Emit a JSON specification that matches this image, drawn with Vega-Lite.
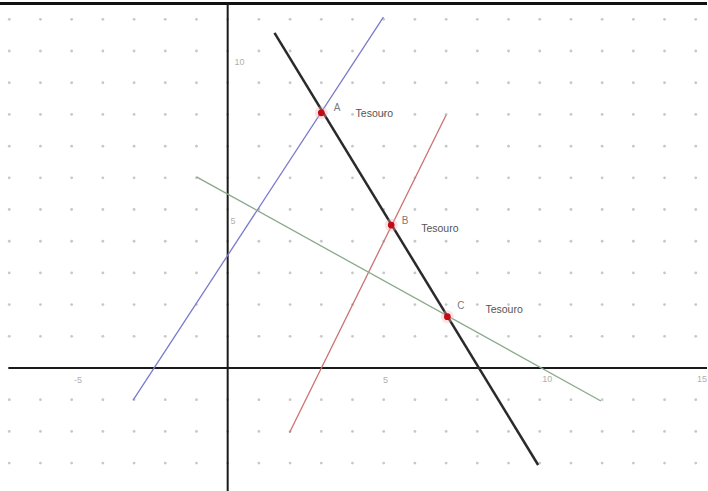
{
  "$schema": "https://vega.github.io/schema/vega-lite/v6.json",
  "width": 708,
  "height": 491,
  "autosize": {"type": "fit", "contains": "padding"},
  "padding": 0,
  "background": "white",
  "config": {"view": {"stroke": null}},
  "datasets": {
    "grid": [
      {"gy": 11, "xs": [-7,-6,-5,-4,-3,-2,-1,0,1,2,3,4,5,6,7,8,9,10,11,12,13,14,15]},
      {"gy": 10, "xs": [-7,-6,-5,-4,-3,-2,-1,0,1,2,3,4,5,6,7,8,9,10,11,12,13,14,15]},
      {"gy": 9, "xs": [-7,-6,-5,-4,-3,-2,-1,0,1,2,3,4,5,6,7,8,9,10,11,12,13,14,15]},
      {"gy": 8, "xs": [-7,-6,-5,-4,-3,-2,-1,0,1,2,3,4,5,6,7,8,9,10,11,12,13,14,15]},
      {"gy": 7, "xs": [-7,-6,-5,-4,-3,-2,-1,0,1,2,3,4,5,6,7,8,9,10,11,12,13,14,15]},
      {"gy": 6, "xs": [-7,-6,-5,-4,-3,-2,-1,0,1,2,3,4,5,6,7,8,9,10,11,12,13,14,15]},
      {"gy": 5, "xs": [-7,-6,-5,-4,-3,-2,-1,0,1,2,3,4,5,6,7,8,9,10,11,12,13,14,15]},
      {"gy": 4, "xs": [-7,-6,-5,-4,-3,-2,-1,0,1,2,3,4,5,6,7,8,9,10,11,12,13,14,15]},
      {"gy": 3, "xs": [-7,-6,-5,-4,-3,-2,-1,0,1,2,3,4,5,6,7,8,9,10,11,12,13,14,15]},
      {"gy": 2, "xs": [-7,-6,-5,-4,-3,-2,-1,0,1,2,3,4,5,6,7,8,9,10,11,12,13,14,15]},
      {"gy": 1, "xs": [-7,-6,-5,-4,-3,-2,-1,0,1,2,3,4,5,6,7,8,9,10,11,12,13,14,15]},
      {"gy": -1, "xs": [-7,-6,-5,-4,-3,-2,-1,0,1,2,3,4,5,6,7,8,9,10,11,12,13,14,15]},
      {"gy": -2, "xs": [-7,-6,-5,-4,-3,-2,-1,0,1,2,3,4,5,6,7,8,9,10,11,12,13,14,15]},
      {"gy": -3, "xs": [-7,-6,-5,-4,-3,-2,-1,0,1,2,3,4,5,6,7,8,9,10,11,12,13,14,15]}
    ],
    "border": [
      {"id": "top", "x": -7.6, "y": 11.5, "x2": 15.6, "y2": 11.5}
    ],
    "frame": [
      {"id": "xaxis", "x": -7.03, "y": 0, "x2": 15.6, "y2": 0},
      {"id": "yaxis", "x": 0, "y": -4.2, "x2": 0, "y2": 11.5}
    ],
    "thin": [
      {"id": "blue", "x": -3.03, "y": -1.01, "x2": 4.99, "y2": 11.07},
      {"id": "red", "x": 1.98, "y": -2.04, "x2": 7.0, "y2": 7.98},
      {"id": "green", "x": -1.0, "y": 6.03, "x2": 11.96, "y2": -1.04}
    ],
    "thick": [
      {"id": "black", "x": 1.5, "y": 10.57, "x2": 9.95, "y2": -3.06}
    ],
    "points": [
      {"name": "A", "x": 3.0, "y": 8.05},
      {"name": "B", "x": 5.24, "y": 4.51},
      {"name": "C", "x": 7.04, "y": 1.62}
    ],
    "names": [
      {"text": "A", "x": 3.4, "y": 8.2},
      {"text": "B", "x": 5.58, "y": 4.64},
      {"text": "C", "x": 7.36, "y": 1.96}
    ],
    "tesouro": [
      {"text": "Tesouro", "x": 4.1, "y": 8.02},
      {"text": "Tesouro", "x": 6.2, "y": 4.38},
      {"text": "Tesouro", "x": 8.26, "y": 1.83}
    ],
    "ticklabels": [
      {"text": "-5", "x": -4.8, "y": -0.38},
      {"text": "5", "x": 5.06, "y": -0.38},
      {"text": "10", "x": 10.24, "y": -0.36},
      {"text": "15", "x": 15.2, "y": -0.36},
      {"text": "5", "x": 0.17, "y": 4.65},
      {"text": "10", "x": 0.38, "y": 9.65}
    ]
  },
  "layer": [
    {
      "data": {"name": "grid"},
      "transform": [{"flatten": ["xs"], "as": ["gx"]}],
      "mark": {"type": "point", "filled": true, "shape": "circle", "size": 8, "color": "#c8c8c8", "opacity": 1},
      "encoding": {
        "x": {"field": "gx", "type": "quantitative", "scale": {"domain": [-7.296, 15.36], "nice": false, "zero": false}, "axis": null},
        "y": {"field": "gy", "type": "quantitative", "scale": {"domain": [-3.88, 11.61], "nice": false, "zero": false}, "axis": null}
      }
    },
    {
      "data": {"name": "ticklabels"},
      "mark": {"type": "text", "font": "Liberation Sans", "fontSize": 9, "color": "#b0b0b0", "align": "center", "baseline": "middle"},
      "encoding": {
        "x": {"field": "x", "type": "quantitative"},
        "y": {"field": "y", "type": "quantitative"},
        "text": {"field": "text"}
      }
    },
    {
      "data": {"name": "border"},
      "mark": {"type": "rule", "clip": true, "strokeCap": "butt", "color": "#111111", "strokeWidth": 3},
      "encoding": {
        "x": {"field": "x", "type": "quantitative"},
        "y": {"field": "y", "type": "quantitative"},
        "x2": {"field": "x2"},
        "y2": {"field": "y2"}
      }
    },
    {
      "data": {"name": "frame"},
      "mark": {"type": "rule", "clip": true, "strokeCap": "butt", "color": "#1a1a1a", "strokeWidth": 2},
      "encoding": {
        "x": {"field": "x", "type": "quantitative"},
        "y": {"field": "y", "type": "quantitative"},
        "x2": {"field": "x2"},
        "y2": {"field": "y2"}
      }
    },
    {
      "data": {"name": "thin"},
      "mark": {"type": "rule", "clip": true, "strokeCap": "butt", "strokeWidth": 1.3},
      "encoding": {
        "x": {"field": "x", "type": "quantitative"},
        "y": {"field": "y", "type": "quantitative"},
        "x2": {"field": "x2"},
        "y2": {"field": "y2"},
        "color": {"field": "id", "type": "nominal", "legend": null,
          "scale": {"domain": ["blue", "red", "green"], "range": ["#7a7acc", "#cc7272", "#8aa98a"]}}
      }
    },
    {
      "data": {"name": "thick"},
      "mark": {"type": "rule", "clip": true, "strokeCap": "butt", "strokeWidth": 2.5, "color": "#2a2a2a"},
      "encoding": {
        "x": {"field": "x", "type": "quantitative"},
        "y": {"field": "y", "type": "quantitative"},
        "x2": {"field": "x2"},
        "y2": {"field": "y2"}
      }
    },
    {
      "data": {"name": "points"},
      "mark": {"type": "point", "filled": true, "shape": "circle", "size": 170, "color": "#f4b0b0", "opacity": 0.35},
      "encoding": {
        "x": {"field": "x", "type": "quantitative"},
        "y": {"field": "y", "type": "quantitative"}
      }
    },
    {
      "data": {"name": "points"},
      "mark": {"type": "point", "filled": true, "shape": "circle", "size": 45, "color": "#c40a14", "opacity": 1},
      "encoding": {
        "x": {"field": "x", "type": "quantitative"},
        "y": {"field": "y", "type": "quantitative"}
      }
    },
    {
      "data": {"name": "names"},
      "mark": {"type": "text", "font": "Liberation Sans", "fontSize": 10, "color": "#7a7a7a", "align": "left", "baseline": "middle"},
      "encoding": {
        "x": {"field": "x", "type": "quantitative"},
        "y": {"field": "y", "type": "quantitative"},
        "text": {"field": "text"}
      }
    },
    {
      "data": {"name": "tesouro"},
      "mark": {"type": "text", "font": "Liberation Sans", "fontSize": 10.5, "color": "#555555", "align": "left", "baseline": "middle"},
      "encoding": {
        "x": {"field": "x", "type": "quantitative"},
        "y": {"field": "y", "type": "quantitative"},
        "text": {"field": "text"}
      }
    }
  ]
}
